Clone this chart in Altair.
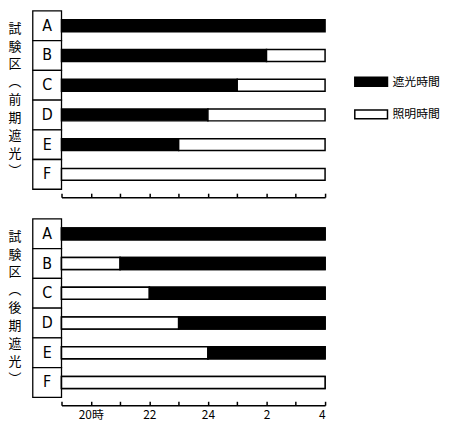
import altair as alt
import pandas as pd

rows = ["A", "B", "C", "D", "E", "F"]
# 前期遮光: shading from 19h until this hour, lit afterwards (hours past midnight as 24+)
early_dark_end = [28, 26, 25, 24, 23, 19]
# 後期遮光: lit from 19h until this hour, shaded afterwards
late_light_end = [19, 21, 22, 23, 24, 28]
start_hour = 19
end_hour = 28
kinds = ["遮光時間", "照明時間"]
kind_colors = ["black", "white"]
tick_hours = list(range(19, 29))
label_hours = [20, 22, 24, 26, 28]
title_early = ["試", "験", "区", "︵", "前", "期", "遮", "光", "︶"]
title_late = ["試", "験", "区", "︵", "後", "期", "遮", "光", "︶"]

CJK = "Noto Sans CJK JP"
LATIN = "'DejaVu Sans Condensed', 'Liberation Sans', sans-serif"


def early_df():
    recs = []
    for r, e in zip(rows, early_dark_end):
        if e > start_hour:
            recs.append(dict(row=r, s=start_hour, e=e, kind=kinds[0]))
        if e < end_hour:
            recs.append(dict(row=r, s=e, e=end_hour, kind=kinds[1]))
    return pd.DataFrame(recs)


def late_df():
    recs = []
    for r, e in zip(rows, late_light_end):
        if e > start_hour:
            recs.append(dict(row=r, s=start_hour, e=e, kind=kinds[1]))
        if e < end_hour:
            recs.append(dict(row=r, s=e, e=end_hour, kind=kinds[0]))
    return pd.DataFrame(recs)


xscale = alt.Scale(domain=[start_hour, end_hour], nice=False, zero=False)
yscale = alt.Scale(domain=rows, paddingInner=0, paddingOuter=0)
fill = alt.Fill("kind:N", scale=alt.Scale(domain=kinds, range=kind_colors),
                legend=alt.Legend(title=None))

tick_axis = alt.Axis(orient="top", offset=-188, labels=False, values=tick_hours,
                     tickSize=4, tickWidth=1.5, domainWidth=1.5, grid=False,
                     title=None, domainColor="black", tickColor="black",
                     minExtent=0, maxExtent=0)
label_axis = alt.Axis(orient="bottom", offset=9, labels=True, values=label_hours,
                      ticks=False, domain=False, grid=False, title=None,
                      labelExpr="datum.value == 20 ? '20時' : (datum.value > 24 ? '' + (datum.value - 24) : '' + datum.value)",
                      labelFont=CJK, labelFontSize=12, labelColor="black",
                      labelPadding=3)


def bar_layer(df, axis):
    return alt.Chart(df).mark_bar(size=12, stroke="black", strokeWidth=1.5).encode(
        x=alt.X("s:Q", scale=xscale, axis=axis),
        x2="e:Q",
        y=alt.Y("row:N", sort=rows, scale=yscale, axis=None),
        fill=fill,
    )


def title_col(chars):
    df = pd.DataFrame({"i": list(range(len(chars))), "ch": chars})
    return alt.Chart(df).mark_text(font=CJK, fontSize=13, color="black", dx=-5.5).encode(
        y=alt.Y("i:O", scale=alt.Scale(type="point", padding=1.2), axis=None),
        text="ch:N",
    ).properties(width=25, height=180)


def label_col():
    df = pd.DataFrame({"row": rows})
    y = alt.Y("row:N", sort=rows, scale=yscale, axis=None)
    rect = alt.Chart(df).mark_rect(fill="white", stroke="black", strokeWidth=1.3).encode(y=y)
    text = alt.Chart(df).mark_text(fontSize=16, font=LATIN,
                                   color="black").encode(y=y, text="row:N")
    return (rect + text).properties(width=29, height=180)


top_bars = bar_layer(early_df(), tick_axis).properties(width=266, height=180)
bottom_bars = alt.layer(
    bar_layer(late_df(), tick_axis),
    bar_layer(late_df(), label_axis),
).resolve_axis(x="independent").properties(width=266, height=180)


def panel(chars, bars):
    return alt.hconcat(title_col(chars), label_col(), bars, spacing=0, bounds="flush")


top = panel(title_early, top_bars)
bottom = panel(title_late, bottom_bars)

chart = alt.vconcat(top, bottom, spacing=20).properties(
    padding={"left": 0, "top": 0, "right": 0, "bottom": 0}
).configure_view(
    stroke=None
).configure_legend(
    orient="none", legendX=349, legendY=54,
    symbolType="M-1,-0.27H1V0.27H-1Z", symbolSize=1089,
    symbolStrokeColor="black", symbolStrokeWidth=1.5,
    labelFont=CJK, labelFontSize=12, labelColor="black", labelOffset=4,
    rowPadding=8,
)

chart.save("out.html", embed_options={"renderer": "svg", "actions": False})
